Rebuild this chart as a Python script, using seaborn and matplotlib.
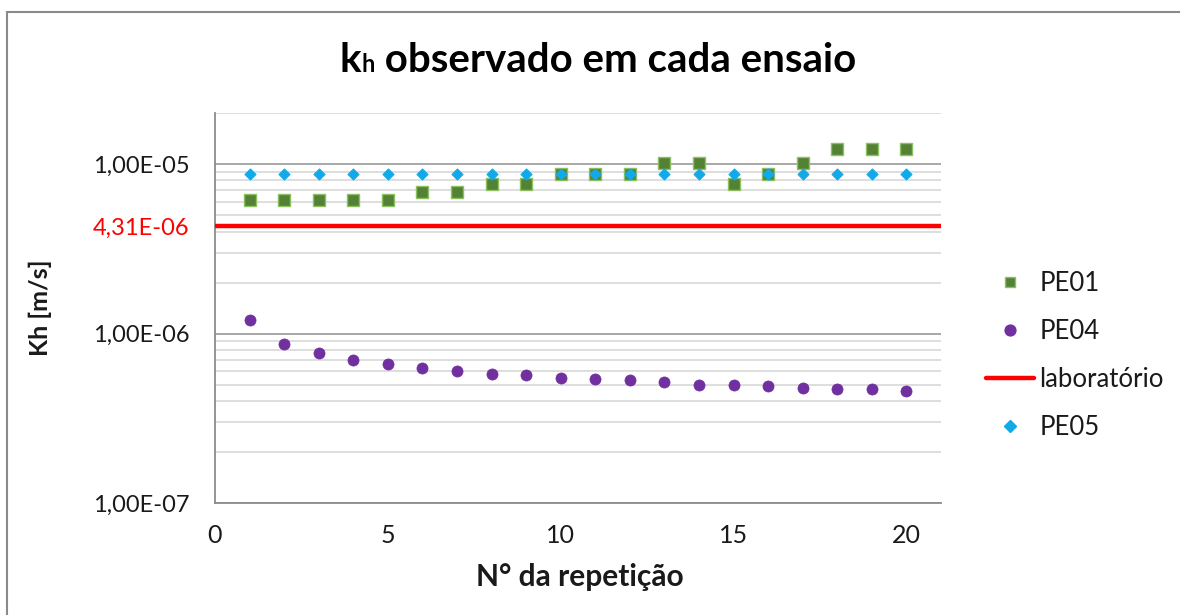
import numpy as np
import pandas as pd
import matplotlib
matplotlib.use("Agg")
import matplotlib.pyplot as plt
from matplotlib.lines import Line2D
from matplotlib.patches import Rectangle
from matplotlib.ticker import LogLocator, NullFormatter
import seaborn as sns

# --- data -------------------------------------------------------------
repeticao = list(range(1, 21))
pe01 = [6.1e-6, 6.1e-6, 6.1e-6, 6.1e-6, 6.1e-6, 6.8e-6, 6.8e-6, 7.6e-6, 7.6e-6, 8.7e-6,
        8.7e-6, 8.7e-6, 1.02e-5, 1.02e-5, 7.6e-6, 8.7e-6, 1.02e-5, 1.22e-5, 1.22e-5, 1.22e-5]
pe04 = [1.21e-6, 8.7e-7, 7.7e-7, 7.0e-7, 6.6e-7, 6.3e-7, 6.05e-7, 5.75e-7, 5.7e-7, 5.5e-7,
        5.4e-7, 5.35e-7, 5.2e-7, 5.0e-7, 5.0e-7, 4.9e-7, 4.8e-7, 4.75e-7, 4.7e-7, 4.6e-7]
pe05 = [8.7e-6, 8.7e-6, 8.7e-6, 8.7e-6, 8.7e-6, 8.7e-6, 8.7e-6, 8.7e-6, 8.7e-6, 8.7e-6,
        8.7e-6, 8.7e-6, 8.7e-6, 8.7e-6, 8.7e-6, 8.7e-6, 8.7e-6, 8.7e-6, 8.7e-6, 8.7e-6]
laboratorio = 4.31e-6
y_major = [1e-7, 1e-6, 1e-5]
x_ticks = [0, 5, 10, 15, 20]

df = pd.DataFrame({"rep": repeticao, "PE01": pe01, "PE04": pe04, "PE05": pe05})

# --- style ------------------------------------------------------------
sns.set_style("white")
plt.rcParams["font.family"] = ["Lato", "DejaVu Sans"]
TXT = "#1a1a1a"
AXC = "#8c8c8c"

fig = plt.figure(figsize=(11.8, 6.15), dpi=100)
ax = fig.add_axes([215 / 1180, 1 - 503.3 / 615, (941 - 215) / 1180, (503.3 - 113) / 615])

green_fill, green_edge = "#548235", "#8cc063"
purple = "#7030a0"
blue = "#12a9e8"
red = "#ff0000"

sns.scatterplot(data=df, x="rep", y="PE01", ax=ax, marker="s", s=64,
                color=green_fill, edgecolor=green_edge, linewidth=1.0, zorder=4)
sns.scatterplot(data=df, x="rep", y="PE04", ax=ax, marker="o", s=64,
                color=purple, edgecolor=purple, linewidth=0.5, zorder=4)
ax.axhline(laboratorio, color=red, lw=3.2, zorder=3)
sns.scatterplot(data=df, x="rep", y="PE05", ax=ax, marker="D", s=34,
                color=blue, edgecolor=blue, linewidth=0.5, zorder=5)

ax.set_yscale("log")
ax.set_xlim(0, 21)
ax.set_ylim(1e-7, 2e-5)

# y ticks: decades plus the laboratory reference value
yt = y_major[:2] + [laboratorio] + y_major[2:]
ax.set_yticks(yt)
ax.set_yticklabels([f"{v:.2E}".replace(".", ",") for v in yt])
ax.yaxis.set_minor_locator(LogLocator(base=10, subs=np.arange(2, 10)))
ax.yaxis.set_minor_formatter(NullFormatter())

ax.set_xticks(x_ticks)
ax.set_xticklabels([str(t) for t in x_ticks])

ax.tick_params(axis="y", which="major", direction="out", length=9, width=1.2,
               color=AXC, labelsize=17, labelcolor=TXT, pad=9.5)
ax.tick_params(axis="y", which="minor", direction="in", length=6, width=1.0, color="#b0b0b0")
ax.tick_params(axis="x", which="major", direction="out", length=6, width=1.2,
               color=AXC, labelsize=18, labelcolor=TXT, pad=9)

# the laboratory value is labelled in red, without tick mark or grid line
for tk, v in zip(ax.yaxis.get_major_ticks(), yt):
    if v == laboratorio:
        tk.label1.set_color(red)
        tk.tick1line.set_visible(False)

ax.grid(True, which="major", axis="y", color="#8f8f8f", lw=1.1)
ax.grid(True, which="minor", axis="y", color="#d4d4d4", lw=1.1)
ax.grid(False, axis="x")
for tk, v in zip(ax.yaxis.get_major_ticks(), yt):
    if v == laboratorio:
        tk.gridline.set_visible(False)
ax.set_axisbelow(True)
for s in ["top", "right"]:
    ax.spines[s].set_visible(False)
for s in ["left", "bottom"]:
    ax.spines[s].set_color(AXC)
    ax.spines[s].set_linewidth(1.3)
ax.set_xlabel("")
ax.set_ylabel("")

# axis titles
fig.text(580 / 1180, 1 - 577 / 615, "N° da repetição", ha="center", va="center",
         fontsize=21.5, fontweight="bold", color=TXT)
fig.text(40 / 1180, 1 - 308 / 615, "Kh [m/s]", ha="center", va="center", rotation=90,
         fontsize=18, fontweight="bold", color=TXT)

# chart title with a small "h" after the "k"
renderer = fig.canvas.get_renderer()
parts = [("k", 29), ("h", 17), (" observado em cada ensaio", 29)]
texts = []
for s, fs in parts:
    texts.append(fig.text(0, 1 - 72 / 615, s, ha="left", va="baseline",
                          fontsize=fs, fontweight="bold", color="#000000"))
widths = [t.get_window_extent(renderer).width for t in texts]
x = 598 - sum(widths) / 2
for t, w in zip(texts, widths):
    t.set_x(x / 1180)
    x += w

# legend
handles = [
    Line2D([], [], ls="none", marker="s", ms=7.8, mfc=green_fill, mec=green_edge, mew=1.0),
    Line2D([], [], ls="none", marker="o", ms=7.8, mfc=purple, mec=purple),
    Line2D([], [], color=red, lw=3.2),
    Line2D([], [], ls="none", marker="D", ms=5.7, mfc=blue, mec=blue),
]
labels = ["PE01", "PE04", "laboratório", "PE05"]
fig.legend(handles, labels, loc="upper left", bbox_to_anchor=(986 / 1180, 1 - 271 / 615),
           frameon=False, fontsize=18.5, handlelength=1.85, handletextpad=0.22,
           labelspacing=0.89, borderpad=0, borderaxespad=0, labelcolor=TXT)

# outer chart border
fig.patches.append(Rectangle((6.5 / 1180, -0.1), 1.2, 0.1 + 1 - 12.5 / 615,
                             transform=fig.transFigure, fill=False,
                             edgecolor="#8a8a8a", lw=1.5, zorder=0))

fig.savefig("out.png", dpi=100)
